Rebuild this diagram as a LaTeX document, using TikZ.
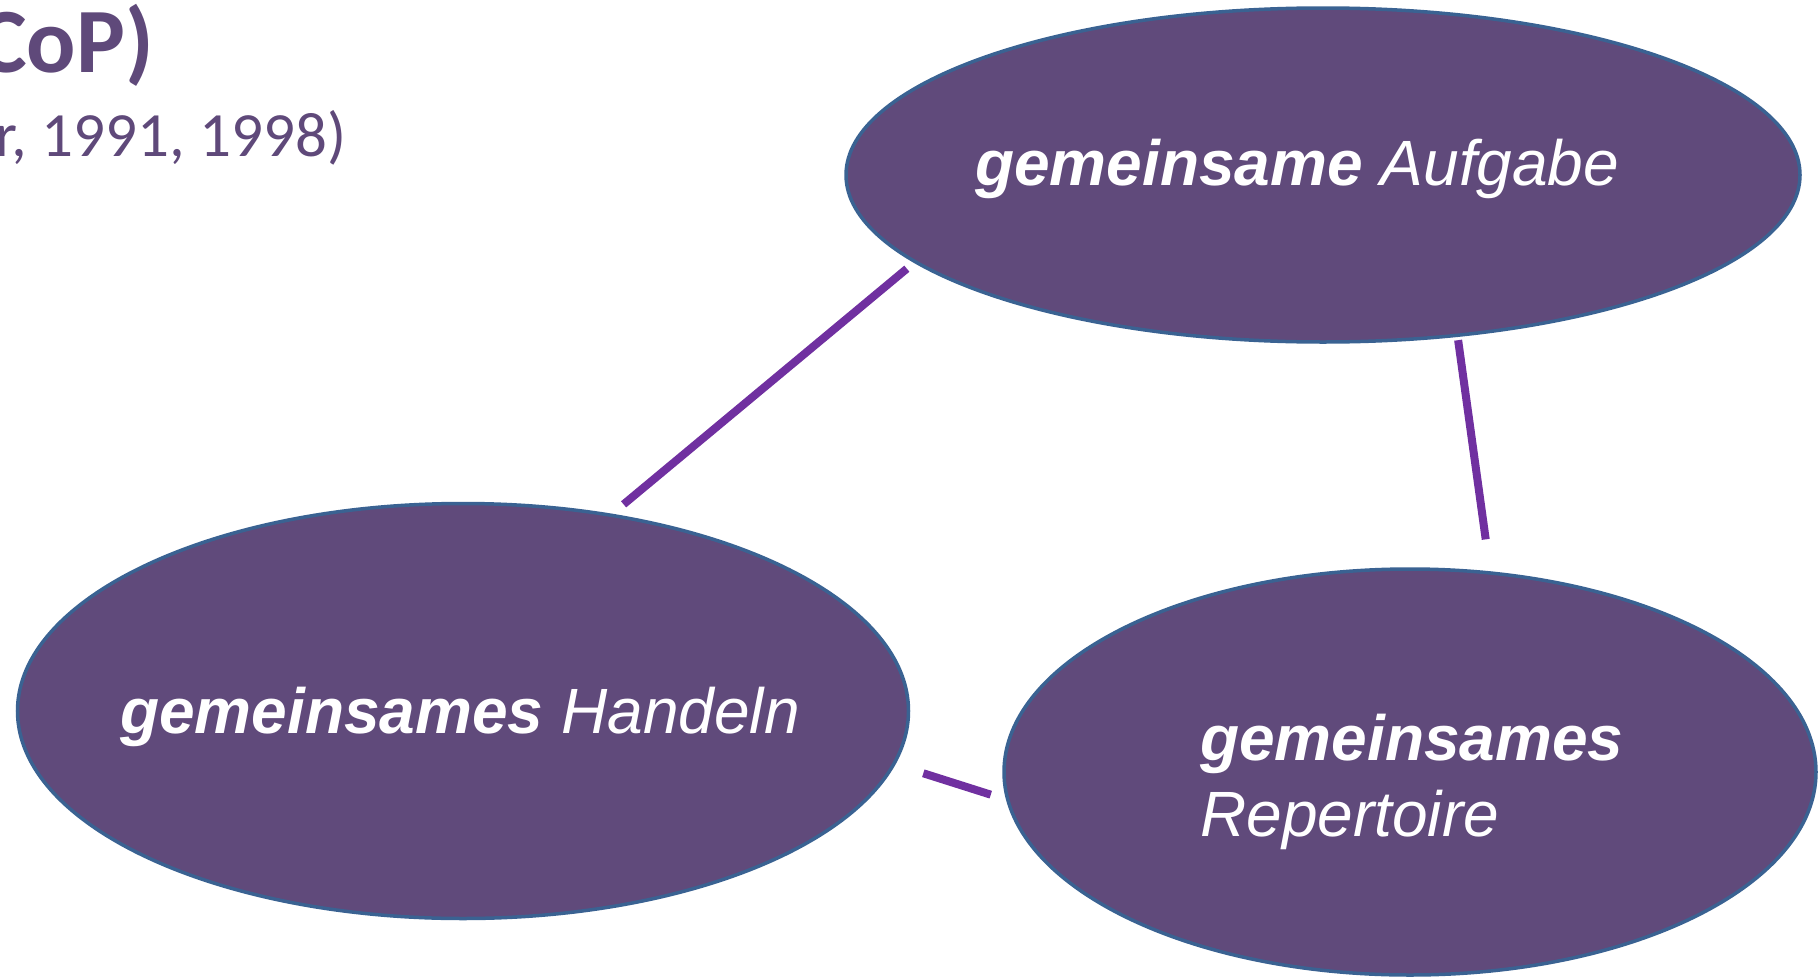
\documentclass[tikz,border=0pt]{standalone}
\usepackage{fontspec}
\setmainfont{Liberation Sans}
\newfontfamily\titlefont[Numbers=Lining]{Carlito}
\usetikzlibrary{shapes.geometric}

\definecolor{ovalfill}{HTML}{604A7B}
\definecolor{ovalline}{HTML}{3A6292}
\definecolor{linkline}{HTML}{7030A0}
\definecolor{titlecol}{HTML}{5F497A}

\tikzset{
  oval/.style={ellipse, draw=ovalline, line width=3.5pt, fill=ovalfill,
    inner sep=0pt, outer sep=0pt},
  link/.style={draw=linkline, line width=8pt},
  ovaltext/.style={text=white, inner sep=0pt, anchor=base west,
    font=\fontsize{64}{70}\selectfont\itshape},
  titletext/.style={text=titlecol, inner sep=0pt, anchor=base west}
}

\begin{document}
\begin{tikzpicture}[x=1pt,y=-1pt]
\useasboundingbox (0,0) rectangle (1818,977);
\clip (0,0) rectangle (1818,977);

% heading, running off the left edge
\node[titletext, font=\titlefont\bfseries\fontsize{92}{96}\selectfont]
  (heading) at (-22,72) {CoP)};
\node[titletext, font=\titlefont\fontsize{63}{67}\selectfont]
  (source) at (-5,156) {r, 1991, 1998)};

% the three ovals
\node[oval, minimum width=954pt, minimum height=334pt] (aufgabe) at (1323,175) {};
\node[oval, minimum width=891pt, minimum height=415pt] (handeln) at (463,711) {};
\node[oval, minimum width=812pt, minimum height=406pt] (repertoire) at (1410,772) {};

% oval labels
\node[ovaltext] (aufgabetext) at (975,185) {\textbf{gemeinsame} Aufgabe};
\node[ovaltext] (handelntext) at (120,733) {\textbf{gemeinsames} Handeln};
\node[ovaltext] (repertoiretext1) at (1200,760) {\textbf{gemeinsames}};
\node[ovaltext] (repertoiretext2) at (1200,836) {Repertoire};

% links between the ovals
\draw[link, shorten <=17pt, shorten >=11pt] (handeln.53) -- (aufgabe.192);
\draw[link, shorten <=5pt, shorten >=34pt] (aufgabe.310) -- (repertoire.68);
\draw[link, shorten <=31pt, shorten >=18pt] (handeln.353) -- (repertoire.184);
\end{tikzpicture}
\end{document}
